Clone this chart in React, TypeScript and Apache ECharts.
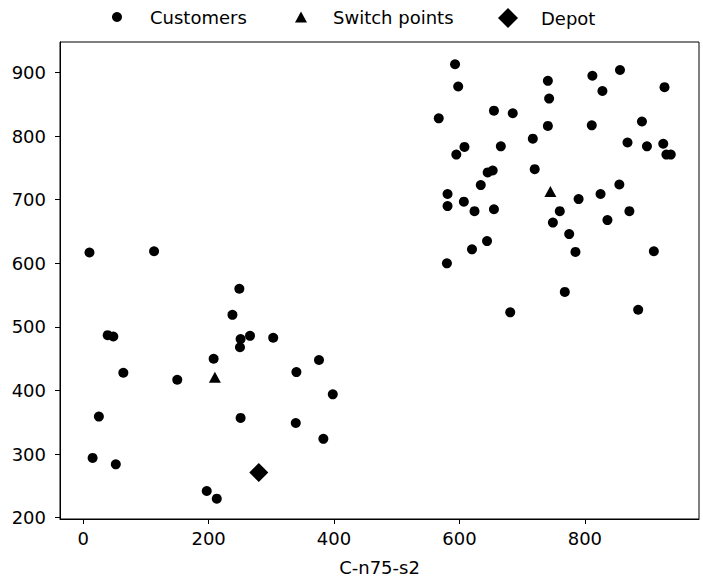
import React, { useEffect, useRef } from 'react';
import * as echarts from 'echarts';

const customersX = [10, 113, 593, 598, 741, 743, 812, 856, 828, 927, 567, 655, 685, 741, 811, 891, 717, 608, 595, 666, 868, 899, 925, 930, 937, 720, 653, 645, 634, 855, 581, 581, 607, 624, 655, 825, 790, 760, 871, 749, 836, 775, 644, 620, 785, 910, 580, 681, 768, 885, 249, 238, 39, 48, 251, 266, 303, 250, 208, 376, 64, 340, 150, 398, 25, 251, 339, 383, 15, 52, 197, 213];
const customersY = [617, 619, 913, 878, 887, 859, 895, 904, 871, 877, 828, 840, 836, 816, 817, 823, 796, 783, 771, 784, 790, 784, 788, 771, 771, 748, 746, 743, 723, 724, 709, 690, 697, 682, 685, 709, 701, 682, 682, 664, 668, 646, 635, 622, 618, 619, 600, 523, 555, 527, 560, 519, 487, 485, 481, 486, 483, 468, 450, 448, 428, 429, 417, 394, 359, 357, 349, 324, 294, 284, 242, 230];
const switchX = [210, 745];
const switchY = [421, 713];
const depotX = [280];
const depotY = [271];

const xTicks = [0, 200, 400, 600, 800];
const yTicks = [200, 300, 400, 500, 600, 700, 800, 900];
const xName = 'C-n75-s2';
const legendNames = ['Customers', 'Switch points', 'Depot'];

const FONT = 'DejaVu Sans';
const FS = 18;

function pairs(xs: number[], ys: number[]) {
  return xs.map((x, i) => [x, ys[i]]);
}

export default function App() {
  const ref = useRef<HTMLDivElement>(null);
  useEffect(() => {
    const chart = echarts.init(ref.current!, null, { renderer: 'svg' });
    const legendBase = {
      orient: 'horizontal',
      padding: 0,
      selectedMode: false,
      textStyle: { fontFamily: FONT, fontSize: FS, color: '#000' },
    };
    chart.setOption({
      animation: false,
      backgroundColor: '#fff',
      textStyle: { fontFamily: FONT },
      grid: {
        left: 60,
        right: 4,
        top: 42,
        bottom: 62,
        show: true,
        borderColor: '#000',
        borderWidth: 1,
        backgroundColor: 'transparent',
      },
      legend: [
        {
          ...legendBase,
          left: 112,
          top: 8,
          data: [{ name: legendNames[0], icon: 'circle' }],
          itemWidth: 10,
          itemHeight: 10,
          textStyle: { ...legendBase.textStyle, padding: [0, 0, 0, 23] },
        },
        {
          ...legendBase,
          left: 295,
          top: 8,
          data: [{ name: legendNames[1], icon: 'triangle' }],
          itemWidth: 12,
          itemHeight: 11,
          textStyle: { ...legendBase.textStyle, padding: [0, 0, 0, 21] },
        },
        {
          ...legendBase,
          left: 498,
          top: 8,
          data: [{ name: legendNames[2], icon: 'diamond' }],
          itemWidth: 20,
          itemHeight: 20,
          textStyle: { ...legendBase.textStyle, padding: [0, 0, 0, 18] },
        },
      ],
      xAxis: {
        type: 'value',
        min: -37,
        max: 982,
        name: xName,
        nameLocation: 'middle',
        nameGap: 39,
        nameTextStyle: { fontFamily: FONT, fontSize: FS, color: '#000' },
        axisLine: { show: true, onZero: false, lineStyle: { color: '#000', width: 1 } },
        axisTick: { show: true, length: 5, lineStyle: { color: '#000', width: 1 }, customValues: xTicks },
        axisLabel: { fontFamily: FONT, fontSize: FS, color: '#000', margin: 10, customValues: xTicks },
        splitLine: { show: false },
      },
      yAxis: {
        type: 'value',
        min: 198,
        max: 948,
        axisLine: { show: true, onZero: false, lineStyle: { color: '#000', width: 1 } },
        axisTick: { show: true, length: 5, lineStyle: { color: '#000', width: 1 }, customValues: yTicks },
        axisLabel: { fontFamily: FONT, fontSize: FS, color: '#000', margin: 14, customValues: yTicks },
        splitLine: { show: false },
      },
      series: [
        {
          name: legendNames[0],
          type: 'scatter',
          symbol: 'circle',
          symbolSize: 10,
          itemStyle: { color: '#000', opacity: 1 },
          data: pairs(customersX, customersY),
        },
        {
          name: legendNames[1],
          type: 'scatter',
          symbol: 'triangle',
          symbolSize: [12, 11],
          itemStyle: { color: '#000', opacity: 1 },
          data: pairs(switchX, switchY),
        },
        {
          name: legendNames[2],
          type: 'scatter',
          symbol: 'diamond',
          symbolSize: 19,
          itemStyle: { color: '#000', opacity: 1 },
          data: pairs(depotX, depotY),
        },
      ],
    });
    return () => chart.dispose();
  }, []);
  return (
    <div
      ref={ref}
      style={{ position: 'fixed', left: 0, top: 0, width: 703, height: 581, background: '#fff' }}
    />
  );
}
